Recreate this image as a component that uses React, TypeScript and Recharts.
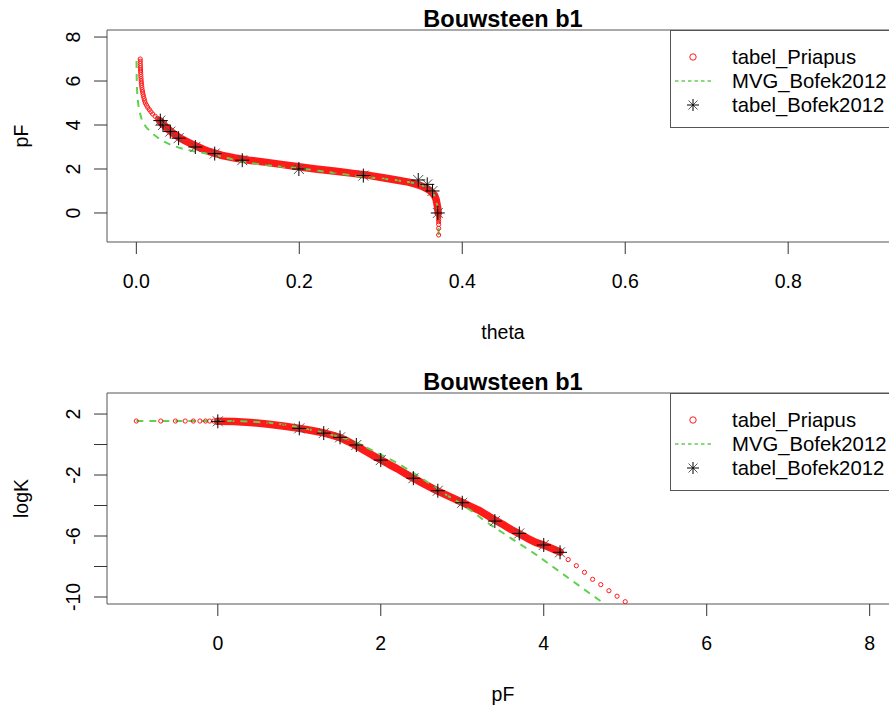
import { ComposedChart, Legend, Line, ReferenceArea, Scatter, XAxis, YAxis } from "recharts";

const FONT = '"Liberation Sans", Arial, Helvetica, sans-serif';
const RED = "#FF1A1A";
const GREEN = "#61D04F";
const FS = 19.5;

// tabel_Priapus: pF, theta, logK
const PRIAPUS_PF = [
  -1, -0.7, -0.52, -0.4, -0.3, -0.22, -0.15, -0.1, -0.05,
  0, 0.2, 0.4, 0.6, 0.8,
  1.0, 1.1, 1.2, 1.3, 1.4, 1.5, 1.6, 1.7, 1.8, 1.9,
  2.0, 2.1, 2.2, 2.3, 2.4, 2.5, 2.6, 2.7, 2.8, 2.9,
  3.0, 3.1, 3.2, 3.3, 3.4, 3.5, 3.6, 3.7, 3.8, 3.9,
  4.0, 4.1, 4.2, 4.3, 4.4, 4.5, 4.6, 4.7, 4.8, 4.9,
  5.0, 5.1, 5.2, 5.3, 5.4, 5.5, 5.6, 5.7, 5.8, 5.9,
  6.0, 6.1, 6.2, 6.3, 6.4, 6.5, 6.6, 6.7, 6.8, 6.9, 7.0,
];
const PRIAPUS_THETA = [
  0.371, 0.371, 0.371, 0.371, 0.371, 0.371, 0.371, 0.371, 0.371,
  0.3705, 0.37, 0.369, 0.368, 0.366,
  0.361, 0.357, 0.3515, 0.344, 0.334, 0.319, 0.303, 0.287, 0.266, 0.245,
  0.22, 0.199, 0.18, 0.16, 0.138, 0.121, 0.107, 0.098, 0.089, 0.082,
  0.076, 0.07, 0.0645, 0.059, 0.054, 0.05, 0.046, 0.0425, 0.0395, 0.0365,
  0.034, 0.031, 0.0285, 0.026, 0.023, 0.02, 0.018, 0.016, 0.014, 0.0125,
  0.011, 0.0102, 0.0095, 0.0088, 0.0082, 0.0077, 0.0072, 0.0068, 0.0065, 0.0062,
  0.006, 0.0058, 0.0056, 0.0055, 0.0053, 0.0052, 0.0051, 0.005, 0.0049, 0.0048, 0.0048,
];
const PRIAPUS_LOGK: (number | null)[] = [
  1.54, 1.54, 1.54, 1.54, 1.54, 1.54, 1.54, 1.54, 1.54,
  1.52, 1.51, 1.45, 1.34, 1.22,
  1.06, 0.97, 0.87, 0.76, 0.62, 0.45, 0.2, -0.08, -0.4, -0.71,
  -1.0, -1.3, -1.58, -1.9, -2.21, -2.5, -2.78, -3.05, -3.3, -3.55,
  -3.8, -4.05, -4.3, -4.62, -4.95, -5.25, -5.57, -5.85, -6.15, -6.42,
  -6.6, -6.82, -7.05, -7.55, -7.95, -8.38, -8.84, -9.19, -9.59, -9.95,
  -10.31, null, null, null, null, null, null, null, null, null,
  null, null, null, null, null, null, null, null, null, null, null,
];

// MVG_Bofek2012 curve
const MVG_PF = [-1, -0.5, 0, 0.3, 0.6, 0.8, 1.0, 1.2, 1.35, 1.5, 1.65, 1.8, 2.0, 2.2, 2.35, 2.5, 2.65, 2.8, 2.95, 3.1, 3.3, 3.6, 3.9, 4.2, 4.6, 4.8, 5.0, 5.5, 6.0, 7.0];
const MVG_THETA = [0.371, 0.3709, 0.3706, 0.3696, 0.3675, 0.3655, 0.3625, 0.355, 0.343, 0.318, 0.278, 0.248, 0.206, 0.154, 0.127, 0.112, 0.095, 0.071, 0.054, 0.042, 0.031, 0.02, 0.012, 0.007, 0.004, 0.003, 0.0022, 0.001, 0.0005, 0.0002];
const MVG_LOGK: (number | null)[] = [1.55, 1.55, 1.55, 1.53, 1.44, 1.32, 1.14, 0.9, 0.7, 0.48, 0.27, -0.13, -0.66, -1.2, -1.7, -2.2, -2.75, -3.28, -3.78, -4.3, -5.1, -6.15, -7.2, -8.36, -9.9, -10.65, null, null, null, null];

// tabel_Bofek2012
const BOFEK_PF = [0, 1.0, 1.3, 1.5, 1.7, 2.0, 2.4, 2.7, 3.0, 3.4, 3.7, 4.0, 4.2];
const BOFEK_THETA = [0.37, 0.3635, 0.357, 0.346, 0.2786, 0.1995, 0.13, 0.0962, 0.0724, 0.0519, 0.0417, 0.0327, 0.0294];
const BOFEK_LOGK = [1.52, 1.06, 0.75, 0.47, -0.03, -1.02, -2.21, -3.03, -3.82, -5.02, -5.83, -6.59, -7.07];

const THETA_TICKS = [0, 0.2, 0.4, 0.6, 0.8];
const PF_TICKS = [0, 2, 4, 6, 8];
const LOGK_TICKS = [2, 0, -2, -4, -6, -8, -10];
const LOGK_LABELS = [2, -2, -6, -10];
const LEGEND_LABELS = ["tabel_Priapus", "MVG_Bofek2012", "tabel_Bofek2012"];
const TITLE = "Bouwsteen b1";

type Pt = { x: number; y: number };

function pairs(xs: (number | null)[], ys: (number | null)[]): Pt[] {
  const out: Pt[] = [];
  xs.forEach((x, i) => {
    const y = ys[i];
    if (x != null && y != null) out.push({ x, y });
  });
  return out;
}

// dense part of the Priapus table is drawn as a solid band
const inBand = (pf: number) => pf >= 0 && pf <= 4.2;

const topPriapus = pairs(PRIAPUS_THETA, PRIAPUS_PF);
const topBand = topPriapus.filter((p) => inBand(p.y));
const topMvg = pairs(MVG_THETA, MVG_PF);
const topBofek = pairs(BOFEK_THETA, BOFEK_PF);

const botPriapus = pairs(PRIAPUS_PF, PRIAPUS_LOGK);
const botBand = botPriapus.filter((p) => inBand(p.x));
const botMvg = pairs(MVG_PF, MVG_LOGK);
const botBofek = pairs(BOFEK_PF, BOFEK_LOGK);

function RedCircle(props: any) {
  const { cx, cy } = props;
  if (cx == null || cy == null) return null;
  return <circle cx={cx} cy={cy} r={2.1} fill="none" stroke={RED} strokeWidth={1} />;
}

function StarMark({ cx, cy, a = 7, d = 5 }: any) {
  if (cx == null || cy == null) return null;
  return (
    <g strokeWidth={1}>
      <line x1={cx - d} y1={cy - d} x2={cx + d} y2={cy + d} stroke="#555" />
      <line x1={cx - d} y1={cy + d} x2={cx + d} y2={cy - d} stroke="#555" />
      <line x1={cx - a} y1={cy} x2={cx + a} y2={cy} stroke="#000" />
      <line x1={cx} y1={cy - a} x2={cx} y2={cy + a} stroke="#000" />
    </g>
  );
}

function XTick(props: any) {
  const { x, y, payload, fmt } = props;
  return (
    <text x={x} y={y} dy="0.71em" textAnchor="middle" fontSize={FS} fontFamily={FONT} fill="#000">
      {fmt(payload.value)}
    </text>
  );
}

function YTick(props: any) {
  const { x, y, payload, labels } = props;
  if (!labels.includes(payload.value)) return null;
  return (
    <text x={x} y={y} transform={`rotate(-90 ${x} ${y})`} textAnchor="middle" fontSize={FS} fontFamily={FONT} fill="#000">
      {payload.value}
    </text>
  );
}

const xTitle = (text: string) => (props: any) => {
  const vb = props.viewBox;
  return (
    <text x={vb.x + vb.width / 2} y={vb.y + 97} textAnchor="middle" fontSize={FS} fontFamily={FONT} fill="#000">
      {text}
    </text>
  );
};

const yTitle = (text: string) => (props: any) => {
  const vb = props.viewBox;
  const x = vb.x + 28;
  const y = vb.y + vb.height / 2;
  return (
    <text x={x} y={y} transform={`rotate(-90 ${x} ${y})`} textAnchor="middle" fontSize={FS} fontFamily={FONT} fill="#000">
      {text}
    </text>
  );
};

function LegendBox() {
  return (
    <div
      style={{
        boxSizing: "border-box",
        width: 240,
        height: 98,
        border: "1px solid #555",
        background: "#fff",
        paddingTop: 14,
        fontFamily: FONT,
        fontSize: 20.3,
        color: "#000",
      }}
    >
      {LEGEND_LABELS.map((label, i) => (
        <div key={label} style={{ height: 24, display: "flex", alignItems: "center" }}>
          <svg width={56} height={24} style={{ flex: "none" }}>
            {i === 0 && <circle cx={22} cy={12} r={3.2} fill="none" stroke={RED} strokeWidth={1} />}
            {i === 1 && <line x1={4} y1={12} x2={40} y2={12} stroke={GREEN} strokeWidth={1.3} strokeDasharray="3.5 3" />}
            {i === 2 && <StarMark cx={22} cy={12} a={6} d={4.5} />}
          </svg>
          <span style={{ marginLeft: 5, whiteSpace: "nowrap", lineHeight: "24px" }}>{label}</span>
        </div>
      ))}
    </div>
  );
}

type PanelProps = {
  height: number;
  marginTop: number;
  xAxisHeight: number;
  xDomain: [number, number];
  yDomain: [number, number];
  xTicks: number[];
  yTicks: number[];
  yLabels: number[];
  xFmt: (v: number) => string;
  xName: string;
  yName: string;
  priapus: Pt[];
  band: Pt[];
  mvg: Pt[];
  bofek: Pt[];
};

function Panel(p: PanelProps) {
  return (
    <ComposedChart width={960} height={p.height} margin={{ top: p.marginTop, right: 61, bottom: 0, left: 0 }}>
      <XAxis
        type="number"
        dataKey="x"
        domain={p.xDomain}
        allowDataOverflow
        ticks={p.xTicks}
        interval={0}
        height={p.xAxisHeight}
        axisLine={false}
        tickLine={{ stroke: "#333" }}
        tickSize={12}
        tickMargin={20.5}
        tick={(t: any) => <XTick {...t} fmt={p.xFmt} />}
        label={{ value: p.xName, content: xTitle(p.xName) }}
      />
      <YAxis
        type="number"
        dataKey="y"
        domain={p.yDomain}
        allowDataOverflow
        ticks={p.yTicks}
        interval={0}
        width={107}
        axisLine={false}
        tickLine={{ stroke: "#333" }}
        tickSize={13}
        tickMargin={14}
        tick={(t: any) => <YTick {...t} labels={p.yLabels} />}
        label={{ value: p.yName, content: yTitle(p.yName) }}
      />
      <ReferenceArea
        x1={p.xDomain[0]}
        x2={p.xDomain[1]}
        y1={p.yDomain[0]}
        y2={p.yDomain[1]}
        fill="none"
        stroke="#555"
        strokeWidth={1}
        ifOverflow="visible"
      />
      <Line data={p.band} dataKey="y" type="linear" stroke={RED} strokeWidth={7.5} strokeLinecap="round" strokeLinejoin="round" dot={false} activeDot={false} isAnimationActive={false} legendType="none" />
      <Scatter data={p.priapus} dataKey="y" shape={RedCircle} isAnimationActive={false} name="tabel_Priapus" />
      <Line data={p.mvg} dataKey="y" type="linear" stroke={GREEN} strokeWidth={2} strokeDasharray="7 6" dot={false} activeDot={false} isAnimationActive={false} name="MVG_Bofek2012" />
      <Scatter data={p.bofek} dataKey="y" shape={(s: any) => <StarMark cx={s.cx} cy={s.cy} />} isAnimationActive={false} name="tabel_Bofek2012" />
      <Legend
        layout="horizontal"
        verticalAlign="middle"
        align="center"
        content={() => <LegendBox />}
        wrapperStyle={{ left: 670, top: p.marginTop, width: 240, height: 98 }}
      />
    </ComposedChart>
  );
}

function Title({ top }: { top: number }) {
  return (
    <div
      style={{
        position: "absolute",
        top,
        left: 107,
        width: 792,
        textAlign: "center",
        fontFamily: FONT,
        fontWeight: "bold",
        fontSize: 23.5,
        lineHeight: "24px",
        color: "#000",
        whiteSpace: "nowrap",
      }}
    >
      {TITLE}
    </div>
  );
}

export default function App() {
  return (
    <div style={{ position: "absolute", left: 0, top: 0, width: 889, height: 707, overflow: "hidden", background: "#fff" }}>
      <div style={{ position: "absolute", left: 0, top: 0 }}>
        <Panel
          height={360}
          marginTop={30}
          xAxisHeight={118}
          xDomain={[-0.036, 0.936]}
          yDomain={[-1.32, 8.32]}
          xTicks={THETA_TICKS}
          yTicks={PF_TICKS}
          yLabels={PF_TICKS}
          xFmt={(v) => v.toFixed(1)}
          xName="theta"
          yName="pF"
          priapus={topPriapus}
          band={topBand}
          mvg={topMvg}
          bofek={topBofek}
        />
      </div>
      <div style={{ position: "absolute", left: 0, top: 360 }}>
        <Panel
          height={347}
          marginTop={33}
          xAxisHeight={103}
          xDomain={[-1.36, 8.36]}
          yDomain={[-10.46, 3.38]}
          xTicks={PF_TICKS}
          yTicks={LOGK_TICKS}
          yLabels={LOGK_LABELS}
          xFmt={(v) => String(v)}
          xName="pF"
          yName="logK"
          priapus={botPriapus}
          band={botBand}
          mvg={botMvg}
          bofek={botBofek}
        />
      </div>
      <Title top={6.6} />
      <Title top={369.6} />
    </div>
  );
}
